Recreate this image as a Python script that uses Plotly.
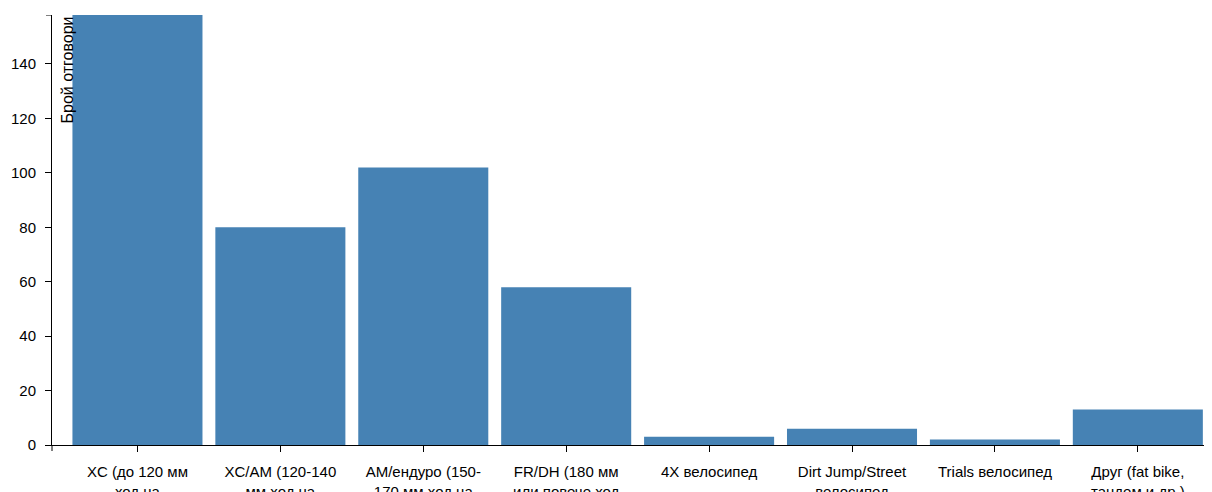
import plotly.graph_objects as go

categories = [
    "XC (до 120 мм<br>ход на",
    "XC/AM (120-140<br>мм ход на",
    "AM/ендуро (150-<br>170 мм ход на",
    "FR/DH (180 мм<br>или повече ход",
    "4X велосипед",
    "Dirt Jump/Street<br>велосипед",
    "Trials велосипед",
    "Друг (fat bike,<br>тандем и др.)",
]
counts = [158, 80, 102, 58, 3, 6, 2, 13]
y_ticks = [0, 20, 40, 60, 80, 100, 120, 140]
y_title = "Брой отговори"

FONT = "Liberation Sans, Arial, sans-serif"
FS = 15

fig = go.Figure(
    go.Bar(
        x=list(range(len(categories))),
        y=counts,
        marker=dict(color="#4682b4", line=dict(width=0)),
        hoverinfo="x+y",
    )
)

# page body has an 8px default margin, so the figure is sized to fit the window
fig.update_layout(
    width=1204,
    height=484,
    margin=dict(l=44, r=0, t=7, b=47, autoexpand=False),
    paper_bgcolor="white",
    plot_bgcolor="white",
    bargap=0.09,
    showlegend=False,
    font=dict(family=FONT, size=FS, color="#000"),
)

fig.update_xaxes(
    type="linear",
    range=[-0.598, 7.519],
    tickmode="array",
    tickvals=list(range(len(categories))),
    ticktext=categories,
    ticks="outside",
    ticklen=6,
    tickcolor="#000",
    showline=True,
    linecolor="#000",
    linewidth=1,
    showgrid=False,
    zeroline=False,
    automargin=False,
    tickfont=dict(family=FONT, size=FS, color="#000"),
    ticklabelstandoff=7,
)

fig.update_yaxes(
    range=[0, 158],
    tickmode="array",
    tickvals=y_ticks,
    ticks="outside",
    ticklen=6,
    tickcolor="#000",
    showline=True,
    linecolor="#000",
    linewidth=1,
    showgrid=False,
    zeroline=False,
    automargin=False,
    tickfont=dict(family=FONT, size=FS, color="#000"),
    ticklabelstandoff=6,
)

# outer ticks of the D3-style axes
fig.add_shape(type="line", xref="paper", yref="y", x0=-6 / 1160, x1=0, y0=158, y1=158,
              line=dict(color="#000", width=1))
fig.add_shape(type="line", xref="paper", yref="paper", x0=0, x1=0, y0=0, y1=-6 / 430,
              line=dict(color="#000", width=1))

fig.add_annotation(
    text=y_title,
    xref="paper", yref="paper",
    x=15 / 1160, y=1,
    xanchor="center", yanchor="top",
    textangle=-90,
    showarrow=False,
    font=dict(family=FONT, size=16, color="#000"),
)

fig.write_html("out.html")
